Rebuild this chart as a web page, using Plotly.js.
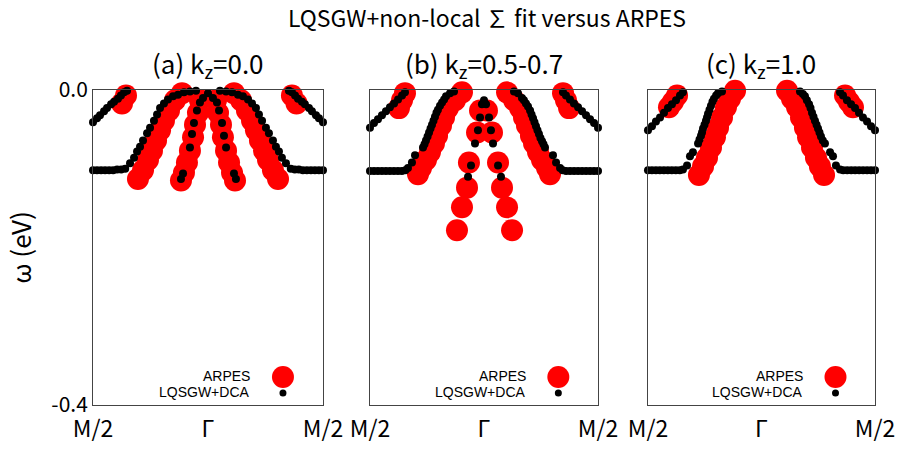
<!DOCTYPE html>
<html>
<head>
<meta charset="utf-8">
<script src="https://cdn.plot.ly/plotly-3.0.1.min.js"></script>
<style>html,body{margin:0;padding:0;background:#fff;}#chart{width:899px;height:451px;}</style>
</head>
<body>
<div id="chart"></div>
<script>
// ---- tick labels / titles ----
const xTickVals = [-1, 0, 1];
const xTickText = ['M/2', 'Γ', 'M/2'];
const yTickVals = [0, -0.4];
const yTickText = ['0.0', '-0.4'];
const panelTitles = ['(a) k<sub>z</sub>=0.0', '(b) k<sub>z</sub>=0.5-0.7', '(c) k<sub>z</sub>=1.0'];
const seriesNames = ['ARPES', 'LQSGW+DCA'];

// ---- panel (a) kz=0.0 ----
const aArpesX = [-0.687,-0.713,-0.748, 0.700,0.730,0.770,
  -0.157,-0.226,-0.287,-0.339,-0.383,-0.417,-0.452,-0.487,-0.522,-0.565,-0.609,
  0.157,0.226,0.287,0.339,0.383,0.417,0.452,0.487,0.522,0.565,0.609,
  -0.070,-0.087,-0.113,-0.130,-0.157,-0.183,-0.209,-0.235,
  0.070,0.087,0.113,0.130,0.157,0.183,0.209,0.235];
const aArpesY = [0.002,-0.007,-0.017, 0.002,-0.007,-0.017,
  0.002,-0.004,-0.013,-0.026,-0.039,-0.051,-0.064,-0.077,-0.089,-0.102,-0.113,
  0.002,-0.004,-0.013,-0.026,-0.039,-0.051,-0.064,-0.077,-0.089,-0.102,-0.113,
  -0.013,-0.029,-0.044,-0.060,-0.077,-0.092,-0.105,-0.115,
  -0.013,-0.029,-0.044,-0.060,-0.077,-0.092,-0.105,-0.115];
const aDcaX = [-1.0,-0.965,-0.939,-0.904,-0.878,-0.843,-0.817,-0.783,-0.757,-0.730,-0.704,
  0.704,0.730,0.757,0.783,0.817,0.843,0.878,0.904,0.939,0.965,1.0,
  -1.0,-0.965,-0.93,-0.895,-0.86,-0.825,-0.79,-0.755,-0.72,
  -0.678,-0.643,-0.617,-0.591,-0.565,-0.530,-0.504,-0.470,-0.443,-0.417,-0.383,-0.348,-0.304,-0.261,-0.209,-0.157,-0.104,
  0.104,0.157,0.209,0.261,0.304,0.348,0.383,0.417,0.443,0.470,0.504,0.530,0.565,0.591,0.617,0.643,0.678,
  0.72,0.755,0.79,0.825,0.86,0.895,0.93,0.965,1.0,
  0,-0.043,0.043,-0.070,0.078,-0.096,0.096,-0.122,0.122,-0.139,0.139,-0.157,0.157,-0.217,0.226,-0.235,0.243];
const aDcaY = [-0.041,-0.036,-0.032,-0.027,-0.023,-0.018,-0.015,-0.011,-0.007,-0.003,-0.001,
  -0.001,-0.003,-0.007,-0.011,-0.015,-0.018,-0.023,-0.027,-0.032,-0.036,-0.041,
  -0.102,-0.102,-0.102,-0.102,-0.102,-0.102,-0.101,-0.101,-0.100,
  -0.093,-0.086,-0.078,-0.072,-0.064,-0.055,-0.048,-0.039,-0.031,-0.023,-0.017,-0.012,-0.008,-0.006,-0.003,-0.002,-0.001,
  -0.001,-0.002,-0.003,-0.006,-0.008,-0.012,-0.017,-0.023,-0.031,-0.039,-0.048,-0.055,-0.064,-0.072,-0.078,-0.086,-0.093,
  -0.100,-0.101,-0.101,-0.102,-0.102,-0.102,-0.102,-0.102,-0.102,
  -0.004,-0.010,-0.010,-0.016,-0.016,-0.026,-0.026,-0.042,-0.042,-0.056,-0.058,-0.073,-0.073,-0.106,-0.106,-0.113,-0.113];

// ---- panel (b) kz=0.5-0.7 ----
const bArpesX = [-0.693,-0.719,-0.746, 0.693,0.719,0.746,
  -0.193,-0.254,-0.316,-0.351,-0.377,-0.412,-0.439,-0.474,-0.509,-0.553,-0.579,
  0.202,0.263,0.316,0.351,0.377,0.412,0.439,0.474,0.509,0.553,0.579,
  -0.035,0.026,-0.061,0.070,-0.132,0.123,-0.149,0.158,-0.193,0.202,-0.237,0.246];
const bArpesY = [-0.004,-0.013,-0.023, -0.004,-0.013,-0.023,
  -0.003,-0.013,-0.023,-0.035,-0.045,-0.058,-0.068,-0.079,-0.089,-0.099,-0.107,
  -0.003,-0.013,-0.023,-0.035,-0.045,-0.058,-0.068,-0.079,-0.089,-0.099,-0.107,
  -0.026,-0.026,-0.054,-0.054,-0.092,-0.092,-0.124,-0.124,-0.149,-0.149,-0.178,-0.178];
const bDcaX = [-1.0,-0.965,-0.930,-0.895,-0.860,-0.825,-0.789,-0.754,-0.719,-0.693,
  0.693,0.719,0.754,0.789,0.825,0.860,0.895,0.930,0.965,1.0,
  -1.0,-0.965,-0.93,-0.895,-0.86,-0.825,-0.79,-0.755,-0.72,-0.69,
  -0.667,-0.632,-0.605,-0.535,-0.522,-0.509,-0.495,-0.482,-0.469,-0.456,-0.443,-0.430,-0.417,-0.404,-0.386,-0.368,-0.350,-0.333,-0.298,-0.263,
  0.263,0.298,0.333,0.350,0.368,0.386,0.404,0.417,0.430,0.443,0.456,0.469,0.482,0.495,0.509,0.522,0.535,0.605,0.632,0.667,
  0.69,0.72,0.755,0.79,0.825,0.86,0.895,0.93,0.965,1.0,
  0,-0.018,0.018,-0.035,0.044,-0.053,0.061,-0.079,0.079,-0.114,0.123,-0.140,0.149];
const bDcaY = [-0.048,-0.042,-0.037,-0.032,-0.027,-0.022,-0.017,-0.012,-0.007,-0.003,
  -0.003,-0.007,-0.012,-0.017,-0.022,-0.027,-0.032,-0.037,-0.042,-0.048,
  -0.103,-0.103,-0.103,-0.103,-0.103,-0.103,-0.103,-0.103,-0.103,-0.102,
  -0.099,-0.092,-0.083,-0.073,-0.069,-0.064,-0.059,-0.054,-0.049,-0.044,-0.039,-0.034,-0.029,-0.025,-0.020,-0.016,-0.012,-0.008,-0.004,-0.002,
  -0.002,-0.004,-0.010,-0.013,-0.017,-0.021,-0.026,-0.031,-0.036,-0.041,-0.046,-0.051,-0.056,-0.061,-0.065,-0.069,-0.073,-0.083,-0.092,-0.099,
  -0.102,-0.103,-0.103,-0.103,-0.103,-0.103,-0.103,-0.103,-0.103,-0.103,
  -0.013,-0.018,-0.018,-0.035,-0.035,-0.051,-0.051,-0.068,-0.068,-0.096,-0.096,-0.110,-0.110];

// ---- panel (c) kz=1.0 ----
const cArpesX = [-0.744,-0.780,-0.815, 0.736,0.771,0.806,
  -0.233,-0.278,-0.313,-0.348,-0.383,-0.410,-0.445,-0.480,-0.515,-0.551,
  0.225,0.269,0.313,0.348,0.383,0.410,0.445,0.480,0.515,0.551];
const cArpesY = [-0.007,-0.015,-0.022, -0.007,-0.015,-0.022,
  -0.001,-0.011,-0.022,-0.035,-0.048,-0.060,-0.073,-0.086,-0.097,-0.108,
  -0.001,-0.011,-0.022,-0.035,-0.048,-0.060,-0.073,-0.086,-0.097,-0.108];
const cDcaX = [-1.0,-0.965,-0.930,-0.894,-0.859,-0.824,-0.789,-0.753,-0.718,-0.692,
  0.692,0.718,0.753,0.789,0.824,0.859,0.894,0.930,0.965,1.0,
  -1.0,-0.965,-0.93,-0.895,-0.86,-0.825,-0.79,-0.755,-0.72,
  -0.692,-0.656,-0.630,-0.604,-0.559,-0.546,-0.533,-0.524,-0.515,-0.502,-0.489,-0.480,-0.471,-0.458,-0.445,-0.432,-0.419,-0.400,-0.383,-0.348,
  0.339,0.365,0.383,0.400,0.419,0.432,0.445,0.458,0.471,0.485,0.498,0.511,0.524,0.540,0.559,0.604,0.630,0.656,0.692,
  0.72,0.755,0.79,0.825,0.86,0.895,0.93,0.965,1.0];
const cDcaY = [-0.051,-0.046,-0.040,-0.035,-0.029,-0.023,-0.018,-0.013,-0.007,-0.003,
  -0.003,-0.007,-0.013,-0.018,-0.023,-0.029,-0.035,-0.040,-0.046,-0.051,
  -0.102,-0.102,-0.102,-0.102,-0.102,-0.102,-0.102,-0.102,-0.102,
  -0.101,-0.096,-0.084,-0.079,-0.068,-0.063,-0.058,-0.054,-0.049,-0.044,-0.039,-0.035,-0.030,-0.025,-0.020,-0.015,-0.011,-0.007,-0.004,-0.002,
  -0.002,-0.005,-0.008,-0.013,-0.018,-0.023,-0.029,-0.034,-0.039,-0.044,-0.049,-0.054,-0.059,-0.064,-0.068,-0.079,-0.084,-0.096,-0.101,
  -0.102,-0.102,-0.102,-0.102,-0.102,-0.102,-0.102,-0.102,-0.102];

// ---- build ----
const RED = '#ff0000';
const BLACK = '#000000';
const titleFont = 'Noto Sans CJK KR, Noto Sans, sans-serif';
const legendFont = 'Liberation Sans, Arial, sans-serif';
const panelData = [
  [aArpesX, aArpesY, aDcaX, aDcaY],
  [bArpesX, bArpesY, bDcaX, bDcaY],
  [cArpesX, cArpesY, cDcaX, cDcaY]
];
const suffix = ['', '2', '3'];
const traces = [];
panelData.forEach((d, i) => {
  const xr = 'x' + suffix[i], yr = 'y' + suffix[i];
  traces.push({x: d[0], y: d[1], xaxis: xr, yaxis: yr, type: 'scatter', mode: 'markers',
    name: seriesNames[0], cliponaxis: false, showlegend: false,
    marker: {color: RED, size: 22, line: {width: 0}}});
  traces.push({x: d[2], y: d[3], xaxis: xr, yaxis: yr, type: 'scatter', mode: 'markers',
    name: seriesNames[1], cliponaxis: false, showlegend: false,
    marker: {color: BLACK, size: 8, line: {width: 0}}});
});

const domains = [[0, 0.2941], [0.3542, 0.6458], [0.7097, 1.0]];
const axLine = '#444444';
const layout = {
  width: 899, height: 451,
  margin: {l: 93, r: 24, t: 89.5, b: 46},
  paper_bgcolor: '#ffffff', plot_bgcolor: '#ffffff',
  showlegend: false,
  title: {text: 'LQSGW+non-local ∑ fit versus ARPES', x: 487/899, xref: 'container', xanchor: 'center',
    y: 1 - 19/451, yref: 'container', yanchor: 'middle',
    font: {family: titleFont, size: 23, color: '#000'}},
  annotations: [],
  shapes: []
};
suffix.forEach((s, i) => {
  layout['xaxis' + s] = {domain: domains[i], range: [-1, 1], anchor: 'y' + s,
    tickmode: 'array', tickvals: xTickVals, ticktext: xTickText,
    ticks: 'outside', ticklen: 3, tickcolor: 'rgba(0,0,0,0)',
    showgrid: false, zeroline: false, showline: true, mirror: true, linecolor: axLine, linewidth: 1,
    tickfont: {family: titleFont, size: 23, color: '#000'}, fixedrange: true};
  layout['yaxis' + s] = {domain: [0, 1], range: [-0.4, 0], anchor: 'x' + s,
    tickmode: 'array', tickvals: yTickVals, ticktext: yTickText, ticks: '',
    showticklabels: i === 0,
    showgrid: false, zeroline: false, showline: true, mirror: true, linecolor: axLine, linewidth: 1,
    tickfont: {family: titleFont, size: 21, color: '#000'}, fixedrange: true};
  // panel title
  layout.annotations.push({text: panelTitles[i], xref: 'x' + s + ' domain', yref: 'paper',
    x: 0.5, y: 1 + (89.5 - 63) / 315.5, xanchor: 'center', yanchor: 'middle', showarrow: false,
    font: {family: titleFont, size: 26, color: '#000'}});
  // legend entries
  layout.annotations.push({text: seriesNames[0], xref: 'x' + s + ' domain', yref: 'y' + s + ' domain',
    x: 0.691, y: 0.092, xanchor: 'right', yanchor: 'middle', showarrow: false,
    font: {family: legendFont, size: 14, color: '#000'}});
  layout.annotations.push({text: seriesNames[1], xref: 'x' + s + ' domain', yref: 'y' + s + ' domain',
    x: 0.691, y: 0.041, xanchor: 'right', yanchor: 'middle', showarrow: false,
    font: {family: legendFont, size: 14, color: '#000'}});
  layout.shapes.push({type: 'circle', xref: 'x' + s + ' domain', yref: 'y' + s + ' domain',
    xsizemode: 'pixel', ysizemode: 'pixel', xanchor: 0.826, yanchor: 0.0887,
    x0: -11, x1: 11, y0: -11, y1: 11, fillcolor: RED, line: {width: 0}});
  layout.shapes.push({type: 'circle', xref: 'x' + s + ' domain', yref: 'y' + s + ' domain',
    xsizemode: 'pixel', ysizemode: 'pixel', xanchor: 0.826, yanchor: 0.038,
    x0: -3.5, x1: 3.5, y0: -3.5, y1: 3.5, fillcolor: BLACK, line: {width: 0}});
});
layout.yaxis.title = {text: 'ω (eV)', font: {family: titleFont, size: 26, color: '#000'}, standoff: 12};

Plotly.newPlot('chart', traces, layout, {staticPlot: true, displayModeBar: false});
</script>
</body>
</html>
